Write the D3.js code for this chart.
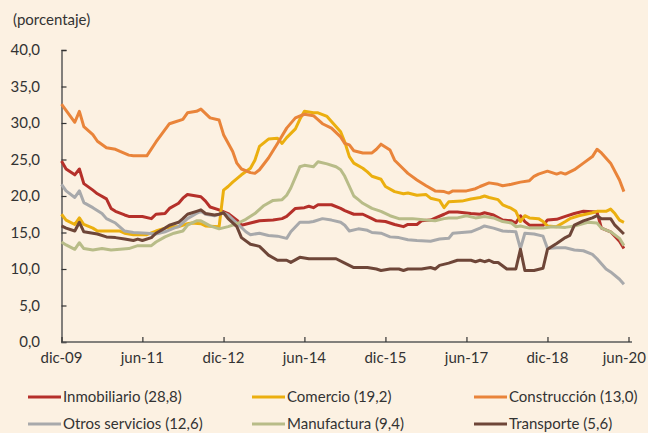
<!DOCTYPE html>
<html>
<head>
<meta charset="utf-8">
<script src="https://cdn.jsdelivr.net/npm/d3@7"></script>
<style>
  body { margin: 0; background: #fcf1e2; }
  svg { display: block; font-family: Lato, "Open Sans", sans-serif; }
</style>
</head>
<body>
<script>
// months counted from dic-09; each pair is [month, value]
var inmobiliario = [[0,24.8],[1,23.7],[3,22.9],[4,23.7],[5,21.7],[7,20.8],[8,20.3],[10,19.6],[11,18.3],[12,17.9],[14,17.4],[15,17.2],[18,17.2],[20,16.9],[21,17.5],[23,17.6],[24,18.3],[26,19.0],[27,19.7],[28,20.2],[30,20.0],[31,19.9],[32,19.3],[33,18.5],[35,18.1],[37,17.6],[39,16.7],[40,16.0],[42,16.3],[44,16.6],[47,16.7],[49,16.9],[50,17.2],[52,18.3],[54,18.4],[55,18.6],[56,18.4],[57,18.8],[60,18.8],[62,18.3],[63,18.0],[65,17.5],[67,17.5],[69,16.9],[70,16.6],[72,16.5],[74,16.1],[76,15.8],[77,16.1],[79,16.1],[80,16.6],[82,16.7],[85,17.5],[86,17.8],[88,17.8],[91,17.6],[93,17.5],[94,17.7],[96,17.4],[98,16.7],[100,16.6],[101,16.3],[102,17.3],[103,16.5],[104,16.0],[107,16.0],[108,16.7],[110,16.8],[112,17.2],[114,17.6],[116,17.9],[119,17.8],[120,15.6],[122,15.1],[124,13.8],[125,12.8]];
var comercio = [[0,17.5],[1,16.7],[3,16.1],[4,17.0],[5,16.1],[7,15.6],[8,15.2],[13,15.2],[14,14.9],[16,14.7],[19,14.7],[21,15.2],[23,15.6],[25,15.8],[26,15.8],[28,16.2],[29,16.3],[31,16.2],[32,15.9],[35,15.8],[36,20.8],[37,21.3],[38,21.9],[40,22.9],[42,23.8],[43,24.9],[44,26.8],[46,27.8],[48,27.9],[49,27.2],[50,28.0],[52,29.2],[53,30.5],[54,31.6],[56,31.4],[57,31.4],[59,30.9],[60,30.2],[62,28.8],[63,27.4],[64,25.4],[65,24.5],[67,23.8],[68,23.3],[69,22.7],[71,22.3],[72,21.3],[74,20.6],[76,20.3],[77,20.4],[79,20.1],[81,20.2],[82,19.7],[84,19.4],[85,18.4],[86,19.2],[89,19.3],[91,19.6],[93,19.8],[94,20.0],[95,19.8],[97,19.5],[98,18.8],[100,18.3],[101,17.9],[102,16.5],[103,17.3],[104,17.0],[106,16.9],[107,16.5],[108,15.9],[110,15.8],[112,16.5],[113,16.9],[115,17.3],[118,17.7],[119,17.9],[121,17.9],[122,18.2],[123,17.6],[124,16.7],[125,16.4]];
var construccion = [[0,32.6],[3,30.1],[4,31.6],[5,29.5],[7,28.4],[8,27.5],[10,26.6],[12,26.4],[13,26.1],[15,25.6],[16,25.5],[19,25.5],[21,27.4],[24,29.9],[25,30.1],[27,30.5],[28,31.4],[30,31.6],[31,31.9],[33,30.7],[35,30.4],[36,28.4],[38,26.1],[39,24.5],[40,23.7],[42,23.2],[43,23.1],[44,23.6],[46,25.2],[48,27.2],[50,29.3],[52,30.7],[54,31.2],[56,31.0],[58,29.9],[60,29.3],[62,28.1],[63,27.2],[64,27.0],[65,26.2],[67,25.9],[69,25.9],[70,26.4],[71,27.1],[73,26.3],[74,24.9],[76,23.7],[77,23.1],[79,22.2],[81,21.4],[83,20.7],[85,20.6],[86,20.4],[87,20.7],[90,20.7],[92,21.0],[93,21.3],[95,21.8],[97,21.6],[98,21.4],[100,21.6],[102,21.9],[104,22.1],[105,22.7],[106,23.0],[108,23.4],[110,23.0],[111,23.2],[112,23.0],[114,23.6],[116,24.5],[118,25.4],[119,26.4],[120,25.9],[122,24.5],[124,22.2],[125,20.6]];
var otrosServicios = [[0,21.6],[1,20.7],[3,19.8],[4,20.7],[5,19.1],[7,18.4],[9,17.6],[10,16.9],[12,16.3],[14,15.2],[16,15.0],[19,14.9],[21,14.8],[23,15.1],[25,15.6],[26,15.8],[28,16.9],[30,17.6],[31,17.9],[32,17.5],[34,17.3],[36,17.7],[37,17.4],[39,16.3],[41,15.1],[42,14.7],[44,14.9],[46,14.6],[48,14.5],[50,14.2],[51,15.1],[53,16.4],[55,16.4],[56,16.5],[58,16.9],[60,16.7],[62,16.4],[63,16.0],[64,15.2],[66,15.5],[68,15.3],[69,15.0],[71,14.9],[73,14.4],[75,14.3],[77,14.0],[79,13.9],[82,13.8],[84,14.1],[86,14.2],[87,14.9],[89,15.0],[91,15.1],[93,15.6],[94,15.9],[96,15.6],[98,15.2],[101,15.1],[102,12.8],[103,14.9],[105,14.8],[107,14.5],[108,12.8],[110,12.9],[112,12.9],[114,12.6],[116,12.5],[118,12.0],[119,11.4],[121,10.0],[122,9.6],[124,8.6],[125,7.9]];
var manufactura = [[0,13.7],[1,13.3],[3,12.7],[4,13.6],[5,12.8],[7,12.6],[9,12.8],[11,12.6],[13,12.7],[15,12.8],[17,13.2],[20,13.2],[21,13.7],[23,14.4],[25,14.9],[27,15.2],[28,16.0],[30,16.6],[31,16.6],[33,15.9],[35,15.5],[37,15.8],[39,16.2],[41,16.8],[43,17.6],[45,18.7],[47,19.4],[49,19.5],[50,20.1],[51,21.1],[53,24.0],[54,24.2],[56,24.0],[57,24.7],[59,24.4],[61,24.0],[62,23.6],[63,22.7],[65,20.0],[66,19.5],[67,19.0],[69,18.3],[71,17.9],[73,17.3],[75,16.9],[78,16.9],[81,16.7],[83,16.6],[85,16.9],[86,17.0],[88,17.0],[90,17.3],[92,17.0],[94,17.2],[96,17.0],[98,16.5],[100,16.3],[101,15.8],[102,15.9],[104,15.6],[107,15.6],[109,15.8],[112,15.7],[114,15.9],[117,16.4],[119,16.3],[120,15.6],[122,15.1],[124,14.2],[125,13.2]];
var transporte = [[0,15.9],[1,15.6],[3,15.2],[4,16.4],[5,15.1],[7,14.9],[8,14.8],[10,14.4],[12,14.3],[14,14.1],[16,13.9],[17,14.1],[18,13.9],[20,14.3],[21,14.9],[23,15.6],[24,16.0],[26,16.4],[27,16.9],[28,17.5],[30,17.9],[31,18.1],[32,17.6],[34,17.4],[35,17.5],[36,17.7],[37,16.9],[39,15.8],[40,14.3],[42,13.4],[44,13.1],[46,11.9],[48,11.2],[50,11.2],[51,10.9],[53,11.6],[55,11.4],[57,11.4],[61,11.4],[63,10.8],[65,10.2],[68,10.2],[70,10.0],[71,9.8],[73,10.0],[75,10.0],[76,9.8],[77,10.0],[80,10.0],[82,10.2],[83,10.0],[84,10.5],[86,10.8],[88,11.2],[91,11.2],[92,11.0],[93,11.2],[94,11.0],[95,11.2],[96,10.9],[97,10.9],[99,10.0],[101,10.0],[102,12.7],[103,9.8],[105,9.8],[107,10.1],[108,12.7],[110,13.5],[112,14.3],[113,14.6],[114,16.0],[116,16.6],[118,17.0],[119,17.3],[120,16.9],[122,16.9],[123,16.0],[125,14.8]];

var seriesNames = ["Inmobiliario (28,8)", "Comercio (19,2)", "Construcción (13,0)",
                   "Otros servicios (12,6)", "Manufactura (9,4)", "Transporte (5,6)"];
var seriesData = [inmobiliario, comercio, construccion, otrosServicios, manufactura, transporte];
var colors = ["#b5302a", "#ebaf0f", "#e9843a", "#a8a9ab", "#b8bc88", "#6e4638"];

var xTickLabels = ["dic-09", "jun-11", "dic-12", "jun-14", "dic-15", "jun-17", "dic-18", "jun-20"];
var xTickMonths = [0, 18, 36, 54, 72, 90, 108, 126];
var yTicks = [0, 5, 10, 15, 20, 25, 30, 35, 40];

var start = new Date(2009, 11, 1);
function monthDate(m) { return d3.timeMonth.offset(start, m); }

var W = 648, H = 433;
var svg = d3.select("body").append("svg")
    .attr("width", W)
    .attr("height", H);

svg.append("rect").attr("width", W).attr("height", H).attr("fill", "#fcf1e2");

var x = d3.scaleTime()
    .domain([monthDate(0), monthDate(126)])
    .range([61.5, 628.5]);
var y = d3.scaleLinear()
    .domain([0, 40])
    .range([342, 50]);

var fmt = function(d) { return d3.format(".1f")(d).replace(".", ","); };

// y axis
var yAxis = svg.append("g")
    .attr("transform", "translate(61.5,0)")
    .call(d3.axisRight(y).tickValues(yTicks).tickSize(5).tickFormat(""));
yAxis.select(".domain").attr("stroke", "#5a5a5a").attr("stroke-width", 1.5);
yAxis.selectAll(".tick line").attr("stroke", "#333").attr("stroke-width", 1.2);

svg.append("g").selectAll("text")
    .data(yTicks)
    .join("text")
    .attr("x", 40)
    .attr("y", function(d) { return y(d); })
    .attr("dy", "0.35em")
    .attr("text-anchor", "end")
    .attr("font-size", 15)
    .attr("fill", "#333")
    .text(fmt);

svg.append("text")
    .attr("x", 13)
    .attr("y", 25)
    .attr("font-size", 15)
    .attr("fill", "#333")
    .text("(porcentaje)");

// x axis
var xAxis = svg.append("g")
    .attr("transform", "translate(0,342)")
    .call(d3.axisTop(x).tickValues(xTickMonths.map(monthDate)).tickSize(5).tickFormat(""));
xAxis.select(".domain").attr("stroke", "#5a5a5a").attr("stroke-width", 1.5)
    .attr("d", "M61.5,0H632");
xAxis.selectAll(".tick line").attr("stroke", "#333").attr("stroke-width", 1.2);

var last = xTickLabels.length - 1;
svg.append("g").selectAll("text")
    .data(xTickLabels)
    .join("text")
    .attr("x", function(d, i) { return i === last ? 646 : x(monthDate(xTickMonths[i])); })
    .attr("y", 363)
    .attr("text-anchor", function(d, i) { return i === last ? "end" : "middle"; })
    .attr("font-size", 15)
    .attr("fill", "#333")
    .text(function(d) { return d; });

// lines
var line = d3.line()
    .x(function(d) { return x(monthDate(d[0])); })
    .y(function(d) { return y(d[1]); });

svg.append("g").selectAll("path")
    .data(seriesData)
    .join("path")
    .attr("d", line)
    .attr("fill", "none")
    .attr("stroke", function(d, i) { return colors[i]; })
    .attr("stroke-width", 3)
    .attr("stroke-linejoin", "round");

// legend
var legX = [28, 252, 474];
var legY = [397, 424];
var leg = svg.append("g").selectAll("g")
    .data(seriesNames)
    .join("g")
    .attr("transform", function(d, i) {
        return "translate(" + legX[i % 3] + "," + legY[Math.floor(i / 3)] + ")";
    });
leg.append("line")
    .attr("x1", 0).attr("x2", 33)
    .attr("stroke", function(d, i) { return colors[i]; })
    .attr("stroke-width", 3);
leg.append("text")
    .attr("x", 35)
    .attr("dy", "0.35em")
    .attr("font-size", 15)
    .attr("fill", "#333")
    .text(function(d) { return d; });
</script>
</body>
</html>
